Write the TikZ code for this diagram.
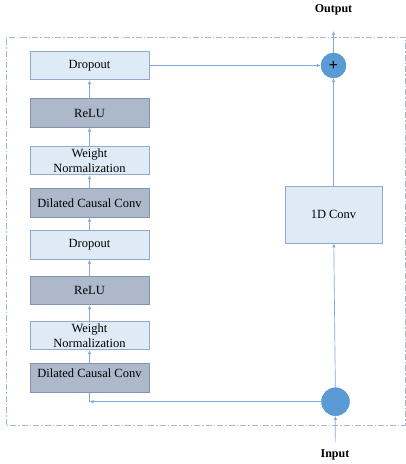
\documentclass[tikz,border=0pt]{standalone}
\usepackage{fontspec}
\setmainfont{Liberation Serif}
\usetikzlibrary{shapes,arrows,arrows.meta}

\definecolor{lightfill}{HTML}{DEEBF7}
\definecolor{lightedge}{HTML}{8FAACB}
\definecolor{darkfill}{HTML}{ADB9CA}
\definecolor{darkedge}{HTML}{8195B0}
\definecolor{linkblue}{HTML}{7FAADB}
\definecolor{dotblue}{HTML}{5B9BD5}
\definecolor{dotedge}{HTML}{4D8CC8}
\definecolor{framecol}{HTML}{A3B8CF}

\begin{document}
\begin{tikzpicture}[x=1pt,y=1pt,
    light/.style={draw=lightedge, fill=lightfill, line width=0.8pt,
        minimum width=119pt, minimum height=28.5pt, inner sep=0pt,
        align=center, font=\fontsize{12.5}{14.5}\selectfont},
    dark/.style={light, draw=darkedge, fill=darkfill},
    link/.style={draw=linkblue, line width=0.7pt, -{Latex[length=4pt,width=3.5pt]}},
    plain/.style={draw=linkblue, line width=0.7pt},
    dot/.style={circle, fill=dotblue, draw=dotedge, line width=0.4pt, inner sep=0pt},
    io/.style={font=\fontsize{12}{14}\selectfont\bfseries}]
    \pgfmathsetmacro{\xl}{89.5}
    \pgfmathsetmacro{\xr}{333.5}
    \useasboundingbox (0,0) rectangle (406,464);

    % Dash-dot border of the block
    \draw [framecol, line width=0.8pt, dash pattern=on 6pt off 2pt on 1.5pt off 2pt]
        (6,39) rectangle (405,427);

    % Left column, bottom to top
    \node [dark, text height=9pt, text depth=10pt] (convA) at (\xl,86) {Dilated Causal Conv};
    \node [light] (normA) at (\xl,128.5) {Weight\\Normalization};
    \node [dark] (reluA) at (\xl,173.5) {ReLU};
    \node [light] (dropA) at (\xl,219) {Dropout};
    \node [dark] (convB) at (\xl,261) {Dilated Causal Conv};
    \node [light] (normB) at (\xl,303.5) {Weight\\Normalization};
    \node [dark] (reluB) at (\xl,351) {ReLU};
    \node [light] (dropB) at (\xl,398.5) {Dropout};

    % Residual branch
    \node [light, minimum width=97pt, minimum height=57pt] (res) at (\xr,249.5) {1D Conv};
    \node [dot, minimum size=28pt] (split) at (335.5,62.3) {};
    \node [dot, minimum size=25pt, font=\fontsize{16}{16}\selectfont\bfseries] (sum) at (\xr,398.5) {+};

    % Input and output
    \node [io, outer sep=4pt] (input) at (335,9) {Input};
    \node [io] (output) at (\xr,454) {Output};
    \coordinate (out) at (\xr,433);

    % Arrows
    \draw [link] (convA) -- (normA);
    \draw [link] (normA) -- (reluA);
    \draw [link] (reluA) -- (dropA);
    \draw [link] (dropA) -- (convB);
    \draw [link] (convB) -- (normB);
    \draw [link] (normB) -- (reluB);
    \draw [link] (reluB) -- (dropB);
    \draw [link] (dropB) -- (sum);
    \draw [link] (input) -- (split);
    \draw [link] (split) -- (res);
    \draw [link] (res) -- (sum);
    \draw [link] (sum) -- (out);
    \draw [link] (split.west) -- (split.west -| convA.south);
    \draw [plain] (convA.south) -- (split.west -| convA.south);
\end{tikzpicture}
\end{document}
